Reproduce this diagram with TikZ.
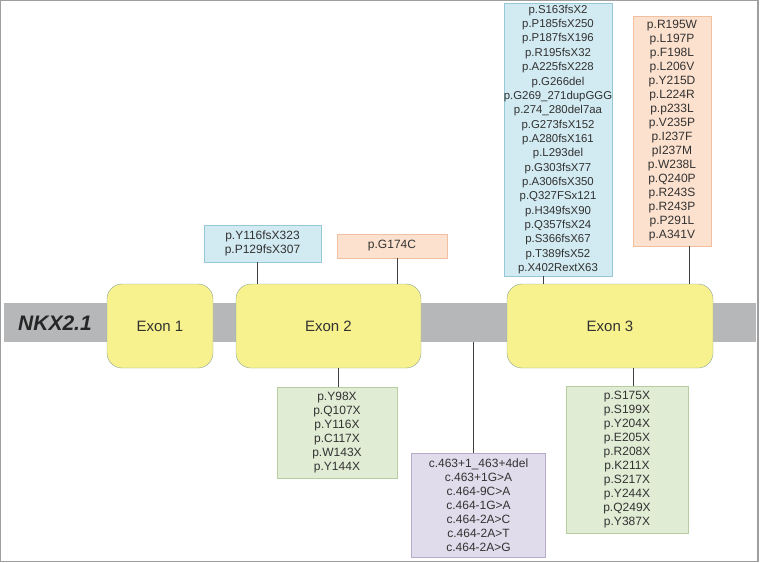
\documentclass[tikz,border=0pt]{standalone}
\usepackage{fontspec}
\setmainfont{Liberation Sans}
\usepackage{tikz}
\usetikzlibrary{positioning}
\definecolor{bargray}{RGB}{181,183,185}
\definecolor{exonfill}{RGB}{248,242,142}
\definecolor{exonline}{RGB}{140,165,150}
\definecolor{bluefill}{RGB}{210,234,241}
\definecolor{blueline}{RGB}{150,200,216}
\definecolor{orangefill}{RGB}{252,225,206}
\definecolor{orangeline}{RGB}{240,192,160}
\definecolor{greenfill}{RGB}{225,236,213}
\definecolor{greenline}{RGB}{182,206,160}
\definecolor{purplefill}{RGB}{224,220,235}
\definecolor{purpleline}{RGB}{182,172,202}
\definecolor{txt}{RGB}{50,50,50}
\tikzstyle{exon}=[rectangle, rounded corners=15pt, draw=exonline, fill=exonfill, minimum height=84pt, text=txt, font=\fontsize{15}{17}\selectfont]
\tikzstyle{mut}=[rectangle, inner sep=0pt, align=center, text=txt, font=\fontsize{12}{14}\selectfont]
\tikzstyle{frameshift}=[mut, draw=blueline, fill=bluefill]
\tikzstyle{missense}=[mut, draw=orangeline, fill=orangefill]
\tikzstyle{nonsense}=[mut, draw=greenline, fill=greenfill]
\tikzstyle{splice}=[mut, draw=purpleline, fill=purplefill]
\tikzstyle{link}=[draw=black!75, line width=0.8pt]

\begin{document}
\begin{tikzpicture}[x=1pt, y=-1pt]
      \useasboundingbox (0,0) rectangle (760,562);
      \draw[black!38, line width=1.2pt] (0.6,0.6) rectangle (758,561.4);

      \node[fill=bargray, minimum width=752pt, minimum height=39pt] (bar) at (380,322.5) {};
      \node[text=black!85, font=\fontsize{21}{24}\selectfont\bfseries\itshape] (gene) at (55,323) {NKX2.1};

      \node[exon, minimum width=106pt] (exon1) at (160,326) {Exon 1};
      \node[exon, minimum width=185pt] (exon2) at (328.5,326) {Exon 2};
      \node[exon, minimum width=206pt] (exon3) at (610,326) {Exon 3};

      \node[frameshift, minimum width=117pt, minimum height=37pt] (fsA) at (262.5,243.5)
            {p.Y116fsX323\\p.P129fsX307};
      \node[missense, minimum width=110pt, minimum height=24pt] (msA) at (392,246)
            {p.G174C};
      \node[nonsense, minimum width=120pt, minimum height=91pt] (nsA) at (337,432.5)
            {p.Y98X\\p.Q107X\\p.Y116X\\p.C117X\\p.W143X\\p.Y144X};
      \node[splice, minimum width=134pt, minimum height=104pt] (sp) at (478.5,505)
            {c.463+1\_463+4del\\c.463+1G>A\\c.464-9C>A\\c.464-1G>A\\c.464-2A>C\\c.464-2A>T\\c.464-2A>G};
      \node[frameshift, minimum width=108pt, minimum height=273pt, font=\fontsize{11.4}{14.35}\selectfont] (fsB) at (558,139.5)
            {p.S163fsX2\\p.P185fsX250\\p.P187fsX196\\p.R195fsX32\\p.A225fsX228\\p.G266del\\p.G269\_271dupGGG\\p.274\_280del7aa\\p.G273fsX152\\p.A280fsX161\\p.L293del\\p.G303fsX77\\p.A306fsX350\\p.Q327FSx121\\p.H349fsX90\\p.Q357fsX24\\p.S366fsX67\\p.T389fsX52\\p.X402RextX63};
      \node[missense, minimum width=78pt, minimum height=230pt] (msB) at (672,131)
            {p.R195W\\p.L197P\\p.F198L\\p.L206V\\p.Y215D\\p.L224R\\p.p233L\\p.V235P\\p.I237F\\pI237M\\p.W238L\\p.Q240P\\p.R243S\\p.R243P\\p.P291L\\p.A341V};
      \node[nonsense, minimum width=122pt, minimum height=147pt] (nsB) at (627,459.5)
            {p.S175X\\p.S199X\\p.Y204X\\p.E205X\\p.R208X\\p.K211X\\p.S217X\\p.Y244X\\p.Q249X\\p.Y387X};

      % connectors
      \draw[link] (fsA.south -| 257,0) -- (exon2.north -| 257,0);
      \draw[link] (msA.south -| 397,0) -- (exon2.north -| 397,0);
      \draw[link] (exon2.south -| 338,0) -- (nsA.north -| 338,0);
      \draw[link] (bar.south -| 473,0) -- (sp.north -| 473,0);
      \draw[link] (fsB.south -| 543,0) -- (exon3.north -| 543,0);
      \draw[link] (msB.south -| 689,0) -- (exon3.north -| 689,0);
      \draw[link] (exon3.south -| 633,0) -- (nsB.north -| 633,0);
    \end{tikzpicture}
\end{document}
